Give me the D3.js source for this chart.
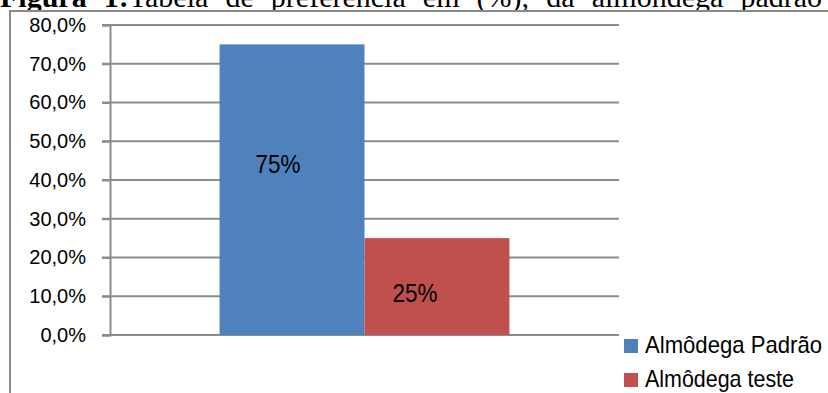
<!DOCTYPE html>
<html><head><meta charset="utf-8">
<script src="https://cdn.jsdelivr.net/npm/d3@7/dist/d3.min.js"></script>
<style>
html,body{margin:0;padding:0;background:#fff;}
svg{display:block;}
</style></head>
<body>
<svg id="chart" width="828" height="393"></svg>
<script>
const categories = ["Almôdega Padrão", "Almôdega teste"];
const values = [0.75, 0.25];
const valueLabels = ["75%", "25%"];
const colors = ["#4f81bd", "#c0504d"];
const yTicks = [0, 0.1, 0.2, 0.3, 0.4, 0.5, 0.6, 0.7, 0.8];
const yTickLabels = ["0,0%", "10,0%", "20,0%", "30,0%", "40,0%", "50,0%", "60,0%", "70,0%", "80,0%"];

(function () {
const svg = d3.select("#chart");
const sans = "'Liberation Sans', Arial, sans-serif";

// title (cut at top), justified with word spacing
const title = svg.append("text").attr("x", 0).attr("y", 7)
  .attr("font-family", "'Liberation Serif', 'Times New Roman', serif")
  .attr("font-size", 30).attr("fill", "#000");
title.append("tspan").attr("font-weight", "bold").text("Figura 1:");
title.append("tspan").text("Tabela de preferência em (%), da almôndega padrão");
const natural = title.node().getComputedTextLength();
const nSpaces = 8;
title.attr("word-spacing", Math.max(0, (822 - natural) / nSpaces));

// chart area (covers title descenders) and border
svg.append("rect").attr("x", 10).attr("y", 11).attr("width", 818).attr("height", 382).attr("fill", "#fff");
svg.append("path").attr("d", "M10,393 V11 H828")
  .attr("fill", "none").attr("stroke", "#8a8a8a").attr("stroke-width", 2);

const pLeft = 110, pRight = 619, pTop = 25, pBottom = 335;
const y = d3.scaleLinear().domain([0, 0.8]).range([pBottom, pTop]);
const x0 = d3.scaleBand().domain(["g"]).range([pLeft, pRight]).paddingInner(0).paddingOuter(0.378);
const x1 = d3.scaleBand().domain(categories).range([x0("g"), x0("g") + x0.bandwidth()]);

// gridlines
svg.append("g").selectAll("line").data(yTicks).join("line")
  .attr("x1", pLeft - 8).attr("x2", pRight)
  .attr("y1", d => y(d)).attr("y2", d => y(d))
  .attr("stroke", "#8c8c8c").attr("stroke-width", 2);

// y axis
const yAxis = d3.axisLeft(y).tickValues(yTicks).tickFormat((d, i) => yTickLabels[i]).tickSize(8).tickPadding(16);
const ga = svg.append("g").attr("transform", `translate(${pLeft},0)`).call(yAxis);
ga.select(".domain").attr("stroke", "#8c8c8c").attr("stroke-width", 2);
ga.selectAll(".tick line").attr("stroke", "#8c8c8c").attr("stroke-width", 2);
ga.selectAll(".tick text").attr("font-family", sans).attr("font-size", 20).attr("fill", "#000");

// bars
svg.append("g").selectAll("rect").data(values).join("rect")
  .attr("x", (d, i) => x1(categories[i]))
  .attr("width", x1.bandwidth())
  .attr("y", d => y(d))
  .attr("height", d => y(0) - y(d))
  .attr("fill", (d, i) => colors[i]);

// value labels
const labelDx = [-14, -22];
const labelDy = [-26, 6];
svg.append("g").selectAll("text").data(values).join("text")
  .attr("x", (d, i) => x1(categories[i]) + x1.bandwidth() / 2 + labelDx[i] - 22.5)
  .attr("y", (d, i) => (y(d) + y(0)) / 2 + labelDy[i])
  .attr("dominant-baseline", "central")
  .attr("font-family", sans).attr("font-size", 26).attr("fill", "#000")
  .attr("textLength", 45).attr("lengthAdjust", "spacingAndGlyphs")
  .text((d, i) => valueLabels[i]);

// legend
const lg = svg.append("g").attr("transform", "translate(624,339)");
const items = lg.selectAll("g").data(categories).join("g")
  .attr("transform", (d, i) => `translate(0,${i * 34})`);
items.append("rect").attr("width", 14).attr("height", 14).attr("fill", (d, i) => colors[i]);
items.append("text").attr("x", 21).attr("y", 14)
  .attr("font-family", sans).attr("font-size", 24).attr("fill", "#000")
  .attr("textLength", (d, i) => i === 0 ? 177 : 149)
  .attr("lengthAdjust", "spacingAndGlyphs")
  .text(d => d);
})();
</script>
</body></html>
